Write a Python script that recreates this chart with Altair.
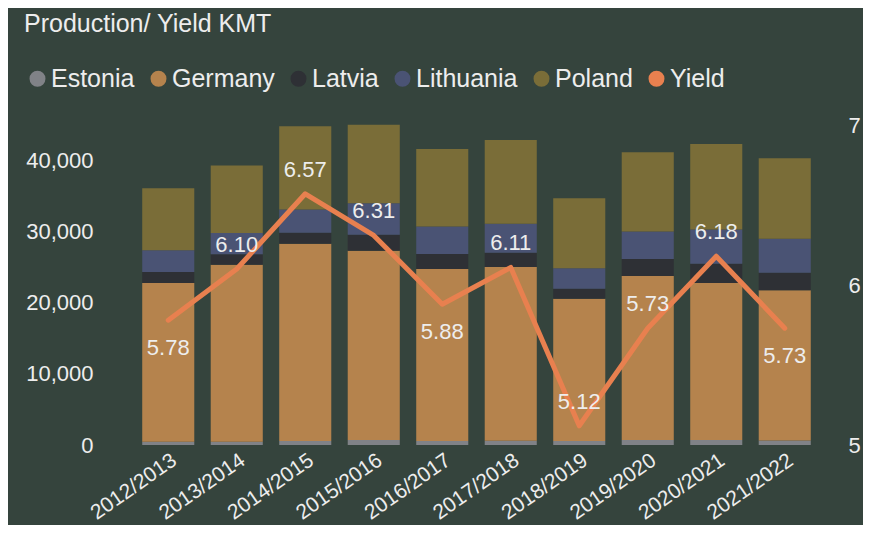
import altair as alt
import pandas as pd

seasons = ["2012/2013", "2013/2014", "2014/2015", "2015/2016", "2016/2017",
           "2017/2018", "2018/2019", "2019/2020", "2020/2021", "2021/2022"]
estonia = [450, 450, 550, 700, 550, 600, 550, 700, 700, 650]
germany = [22330, 24910, 27760, 26620, 24200, 24430, 20030, 23070, 22080, 21100]
latvia = [1540, 1450, 1540, 2250, 2100, 2010, 1410, 2380, 2720, 2490]
lithuania = [3050, 2990, 3270, 4440, 3890, 4070, 2850, 3890, 4820, 4770]
poland = [8740, 9500, 11700, 11040, 10900, 11790, 9870, 11130, 12020, 11310]
yields = [5.78, 6.10, 6.57, 6.31, 5.88, 6.11, 5.12, 5.73, 6.18, 5.73]
label_pos = ["below", "above", "above", "above", "below",
             "above", "above", "above", "above", "below"]

series_names = ["Estonia", "Germany", "Latvia", "Lithuania", "Poland", "Yield"]
series_colors = ["#808287", "#B5834D", "#2E3035", "#4A5374", "#7A6D38", "#E8804F"]

rows = []
for name, vals in [("Estonia", estonia), ("Germany", germany), ("Latvia", latvia),
                   ("Lithuania", lithuania), ("Poland", poland)]:
    for s, v in zip(seasons, vals):
        rows.append({"season": s, "country": name, "value": v})
bars_df = pd.DataFrame(rows)
yield_df = pd.DataFrame({"season": seasons, "yield": yields, "pos": label_pos})

FONT = "Liberation Sans"
TXT = "#EDEDED"

x_enc = alt.X("season:N", sort=seasons, title=None,
              scale=alt.Scale(paddingInner=0.24, paddingOuter=0.12),
              axis=alt.Axis(labelAngle=-35, labelFontSize=21, labelColor=TXT,
                            labelFont=FONT, ticks=False, domain=False,
                            labelPadding=4, grid=False))

bars = alt.Chart(bars_df).mark_bar().encode(
    x=x_enc,
    y=alt.Y("sum(value):Q", title=None,
            scale=alt.Scale(domain=[0, 45000], nice=False, zero=True),
            axis=alt.Axis(values=[0, 10000, 20000, 30000, 40000], format=",.0f",
                          labelFontSize=22, labelColor=TXT, labelFont=FONT,
                          ticks=False, domain=False, grid=False, labelPadding=41)),
    color=alt.Color("country:N",
                    scale=alt.Scale(domain=series_names, range=series_colors),
                    legend=alt.Legend(title=None, orient="none", direction="horizontal",
                                      legendX=-109, legendY=-59, symbolType="circle",
                                      symbolSize=254, symbolStrokeWidth=0,
                                      symbolOpacity=1, labelFontSize=25,
                                      labelColor=TXT, labelFont=FONT, labelOffset=1,
                                      columnPadding=11, padding=0)),
    order=alt.Order("country:N", sort="ascending"),
)

y_right = alt.Y("yield:Q", title=None,
                scale=alt.Scale(domain=[5, 7], nice=False, zero=False),
                axis=alt.Axis(orient="right", values=[5, 6, 7], format=".0f",
                              labelFontSize=22, labelColor=TXT, labelFont=FONT,
                              ticks=False, domain=False, grid=False, labelPadding=29))

line = alt.Chart(yield_df).mark_line(color="#E8804F", strokeWidth=5,
                                     strokeCap="round", strokeJoin="round").encode(
    x=alt.X("season:N", sort=seasons), y=y_right)

text_above = alt.Chart(yield_df).transform_filter(alt.datum.pos == "above").mark_text(
    dy=-24, fontSize=22, color=TXT, font=FONT, baseline="middle").encode(
    x=alt.X("season:N", sort=seasons), y=alt.Y("yield:Q"),
    text=alt.Text("yield:Q", format=".2f"))

text_below = alt.Chart(yield_df).transform_filter(alt.datum.pos == "below").mark_text(
    dy=28, fontSize=22, color=TXT, font=FONT, baseline="middle").encode(
    x=alt.X("season:N", sort=seasons), y=alt.Y("yield:Q"),
    text=alt.Text("yield:Q", format=".2f"))

right = alt.layer(line, text_above, text_below)

chart = alt.layer(bars, right).resolve_scale(y="independent").properties(
    width=685, height=320,
    title=alt.TitleParams("Production/ Yield KMT", anchor="start", frame="group",
                          dx=-110, offset=4, fontSize=25, color=TXT,
                          font=FONT, fontWeight="normal", baseline="bottom"),
    autosize=alt.AutoSizeParams(type="none"),
    padding={"left": 126, "top": 117, "right": 44, "bottom": 80},
    background="#35443D",
).configure_view(stroke=None)

chart.save("out.html", embed_options={"renderer": "svg", "actions": False})
